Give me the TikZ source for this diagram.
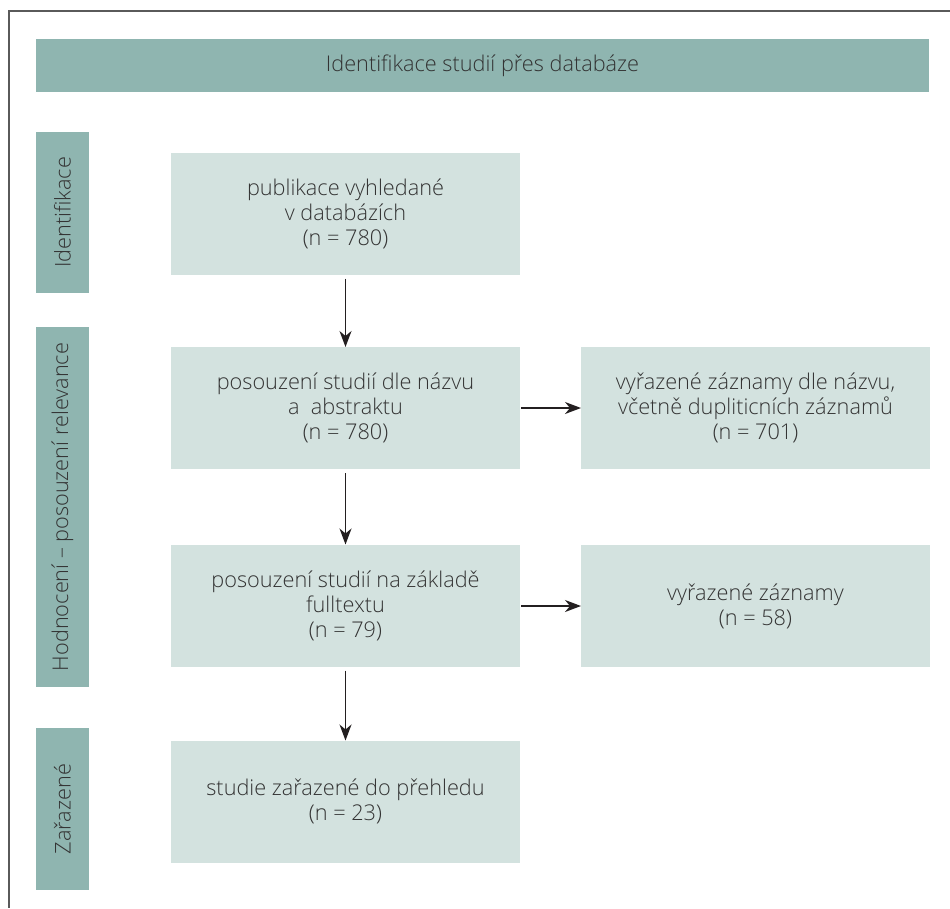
\documentclass[tikz,border=0pt]{standalone}
\usepackage{fontspec}
\setmainfont{Open Sans}[UprightFont={* Light}]
\usetikzlibrary{arrows.meta}
\definecolor{hdrc}{HTML}{8FB5B0}
\definecolor{boxc}{HTML}{D3E2DF}
\definecolor{txtc}{HTML}{333333}
\definecolor{framec}{HTML}{5A5A5A}
\definecolor{arrc}{HTML}{231F20}
\tikzset{
  base/.style={inner sep=0pt, outer sep=0pt, align=center, text=txtc,
    font=\fontsize{21.7}{25}\selectfont},
  hdrbox/.style={base, fill=hdrc},
  sidebox/.style={base, fill=hdrc, minimum width=53pt},
  flowbox/.style={base, fill=boxc, minimum width=349pt, minimum height=122pt},
  arr/.style={draw=arrc, line width=1.4pt, -{Stealth[length=16pt,width=12pt,inset=5pt]}}
}
\begin{document}
\begin{tikzpicture}[x=1pt,y=-1pt]
\useasboundingbox (0,0) rectangle (950,908);
\draw[framec, line width=2pt] (950,10.5) -- (8.5,10.5) -- (8.5,908);
\node[hdrbox, minimum width=893pt, minimum height=53pt] (hdr) at (482.5,65.5) {Identifikace studií přes databáze};
\node[sidebox, minimum height=161pt] (s1) at (62.5,212.5) {};
\node[base, rotate=90] (s1t) at (s1.center) {Identifikace};
\node[sidebox, minimum height=360pt] (s2) at (62.5,507) {};
\node[base, rotate=90] (s2t) at (s2.center) {Hodnocení – posouzení relevance};
\node[sidebox, minimum height=162pt] (s3) at (62.5,809) {};
\node[base, rotate=90] (s3t) at (s3.center) {Zařazené};
\node[flowbox] (b1) at (345.5,213.5) {publikace vyhledané\\v databázích\\(n = 780)};
\node[flowbox] (b2) at (345.5,408) {posouzení studií dle názvu\\a\ \ abstraktu\\(n = 780)};
\node[flowbox] (b3) at (345.5,605.5) {posouzení studií na základě\\fulltextu\\(n = 79)};
\node[flowbox] (b4) at (345.5,801.5) {studie zařazené do přehledu\\(n = 23)};
\node[flowbox] (r1) at (755.5,408) {vyřazené záznamy dle názvu,\\včetně dupliticních záznamů\\(n = 701)};
\node[flowbox] (r2) at (755.5,606) {vyřazené záznamy\\(n = 58)};
\draw[arr, shorten <=4pt] (b1) -- (b2);
\draw[arr, shorten <=4pt] (b2) -- (b3);
\draw[arr, shorten <=4pt] (b3) -- (b4);
\draw[arr, shorten <=1pt] (b2) -- (r1);
\draw[arr, shorten <=1pt] (b3.east |- r2.west) -- (r2);
\end{tikzpicture}
\end{document}
